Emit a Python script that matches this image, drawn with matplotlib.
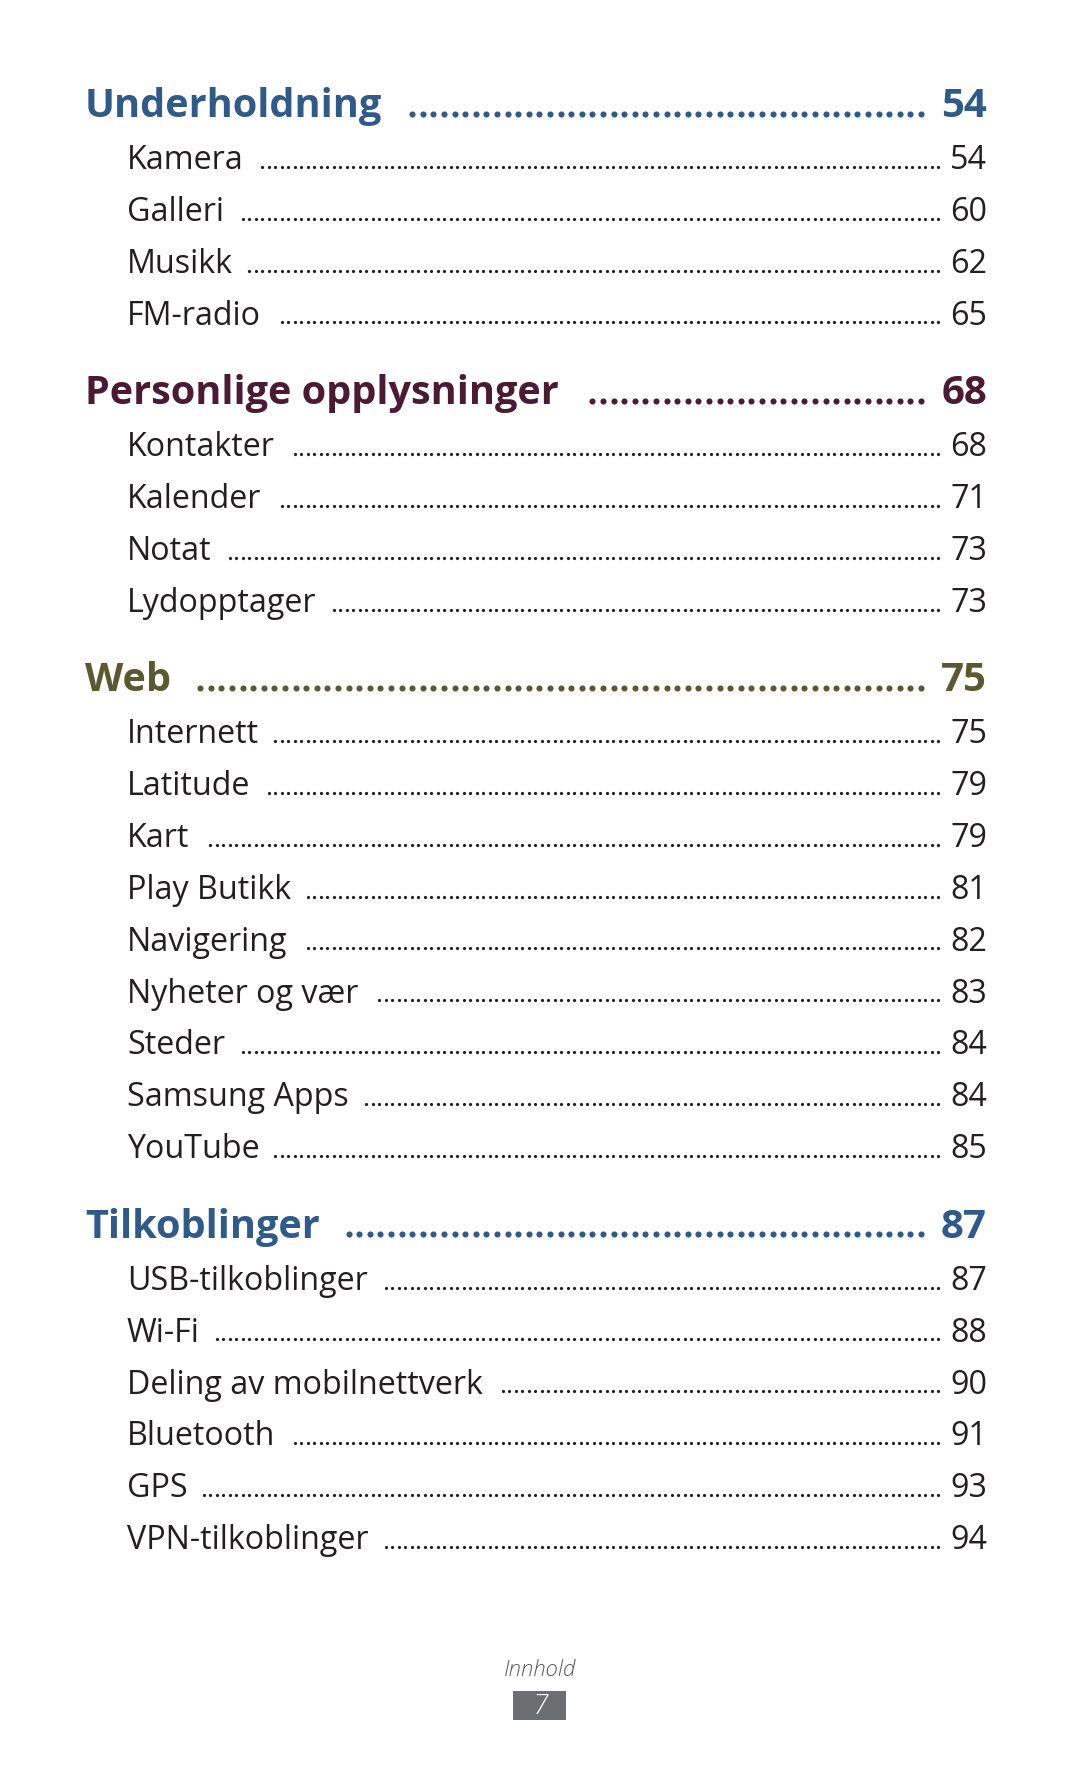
import matplotlib
matplotlib.use('Agg')
import matplotlib.pyplot as plt
import numpy as np

plt.rcParams['font.family'] = ['Open Sans', 'DejaVu Sans']

# innholdsfortegnelse, side 7
section_titles = ['Underholdning', 'Personlige opplysninger', 'Web', 'Tilkoblinger']
section_pages = [54, 68, 75, 87]
section_colors = ['#2f5a8a', '#4a1b33', '#5b5930', '#2f5a8a']

underholdning_items = ['Kamera', 'Galleri', 'Musikk', 'FM-radio']
underholdning_pages = [54, 60, 62, 65]

personlige_items = ['Kontakter', 'Kalender', 'Notat', 'Lydopptager']
personlige_pages = [68, 71, 73, 73]

web_items = ['Internett', 'Latitude', 'Kart', 'Play Butikk', 'Navigering',
             'Nyheter og vær', 'Steder', 'Samsung Apps', 'YouTube']
web_pages = [75, 79, 79, 81, 82, 83, 84, 84, 85]

tilkobling_items = ['USB-tilkoblinger', 'Wi-Fi', 'Deling av mobilnettverk',
                    'Bluetooth', 'GPS', 'VPN-tilkoblinger']
tilkobling_pages = [87, 88, 90, 91, 93, 94]

section_items = [underholdning_items, personlige_items, web_items, tilkobling_items]
section_item_pages = [underholdning_pages, personlige_pages, web_pages, tilkobling_pages]

footer_label = 'Innhold'
page_number = 7

W, H = 1080, 1771
TEXT = '#231f20'

fig = plt.figure(figsize=(W / 100, H / 100), dpi=100)
ax = fig.add_axes([0, 0, 1, 1])
ax.set_xlim(0, W)
ax.set_ylim(H, 0)
ax.axis('off')

renderer = fig.canvas.get_renderer()
inv = ax.transData.inverted()


def right_edge(t):
    bb = t.get_window_extent(renderer)
    return inv.transform((bb.x1, 0))[0]


def leader(x_start, x_end, y, step, size, color):
    # prikker fra høyre mot venstre slik at de ender likt
    xs = np.arange(x_end, x_start, -step)
    ax.plot(xs, np.full(len(xs), y), linestyle='none', marker='o',
            markersize=size, color=color, markeredgewidth=0)


x_head, x_item, x_num = 85, 127, 987
y = 117
for title, page, color, items, pages in zip(section_titles, section_pages, section_colors,
                                            section_items, section_item_pages):
    t = ax.text(x_head, y, title, fontsize=28.5, fontweight='bold', color=color,
                va='baseline', ha='left')
    ax.text(x_num, y, str(page), fontsize=29, fontweight='bold', color=color,
            va='baseline', ha='right')
    leader(right_edge(t) + 25, 921, y - 3.5, 10.6, 4.4, color)
    for item, p in zip(items, pages):
        y += 51.9
        t = ax.text(x_item, y, item, fontsize=23.2, color=TEXT, va='baseline', ha='left')
        ax.text(x_num, y, str(p), fontsize=23.2, color=TEXT, va='baseline', ha='right')
        leader(right_edge(t) + 15, 938, y - 2.2, 6.5, 2.3, TEXT)
    y += 79.5

# bunntekst
ax.text(540, 1670, footer_label, fontsize=16, fontstyle='italic', fontweight='light',
        color='#5a5a5c', ha='center', va='center')
ax.add_patch(plt.Rectangle((513, 1691), 53, 29, color='#6d6e71', lw=0))
ax.text(540, 1706, str(page_number), fontsize=20, fontstyle='italic', fontweight='light',
        color='white', ha='center', va='center')

fig.savefig('out.png', dpi=100, facecolor='white')
